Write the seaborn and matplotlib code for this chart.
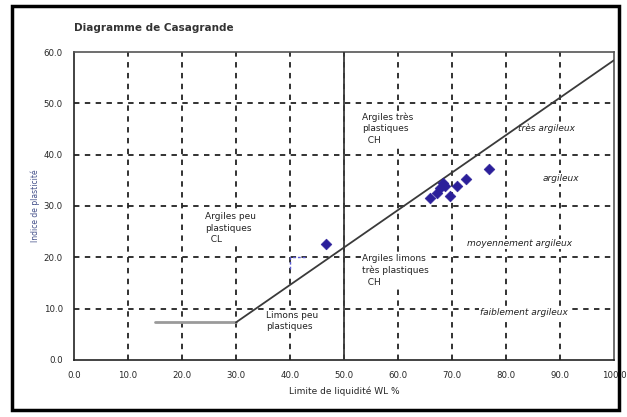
import numpy as np
import pandas as pd
import matplotlib
matplotlib.use("Agg")
import matplotlib.pyplot as plt
import seaborn as sns
from matplotlib.patches import Rectangle

# --- data ---
wl = [46.6, 65.9, 67.2, 67.8, 68.3, 68.7, 69.6, 70.9, 72.6, 76.9]
ip = [22.6, 31.6, 32.6, 33.5, 34.5, 33.9, 32.0, 33.9, 35.3, 37.2]

a_line_wl = [30.0, 100.0]
a_line_ip = [7.3, 58.4]
low_wl = [15.0, 30.0]
low_ip = [7.3, 7.3]
split_wl = [50.0, 50.0]
split_ip = [0.0, 60.0]
mark_wl = [40.0, 40.0, 43.0]
mark_ip = [17.8, 20.0, 20.0]

x_ticks = [0, 10, 20, 30, 40, 50, 60, 70, 80, 90, 100]
y_ticks = [0, 10, 20, 30, 40, 50, 60]

zones = ["Argiles très\nplastiques\n  CH", "Argiles peu\nplastiques\n  CL",
         "Argiles limons\ntrès plastiques\n  CH", "Limons peu\nplastiques"]
zone_x = [53.3, 24.3, 53.3, 35.6]
zone_y = [48.3, 28.8, 20.6, 9.6]

classes = ["très argileux", "argileux", "moyennement argileux", "faiblement argileux"]
class_x = [82.2, 86.8, 72.8, 75.2]
class_y = [45.2, 35.4, 22.6, 9.2]

sns.set_style("white")
plt.rcParams['font.family'] = ['DejaVu Sans']

fig = plt.figure(figsize=(6.27, 4.17), dpi=100)
ax = fig.add_axes([0.118, 0.137, 0.861, 0.738])

# grid
for v in x_ticks[1:-1]:
    ax.axvline(v, color='#222222', ls=(0, (3, 3)), lw=1.3, zorder=1)
for v in y_ticks[1:-1]:
    ax.axhline(v, color='#222222', ls=(0, (3, 3)), lw=1.3, zorder=1)

ax.plot(mark_wl, mark_ip, color='#5a5ad0', ls=(0, (2, 1.5)), lw=1, zorder=2)
ax.plot(low_wl, low_ip, color='#9a9a9a', lw=2, zorder=2)
ax.plot(a_line_wl, a_line_ip, color='#3a3a3a', lw=1.3, zorder=6)
ax.plot(split_wl, split_ip, color='#3a3a3a', lw=1.3, zorder=6)

df = pd.DataFrame({'WL': wl, 'IP': ip})
sns.scatterplot(data=df, x='WL', y='IP', marker='D', s=30, color='#2b1f9a',
                edgecolor='#2b1f9a', ax=ax, zorder=7)

for t, x, y in zip(zones, zone_x, zone_y):
    ax.text(x, y, t, fontsize=6.5, va='top', ha='left', color='#222222',
            linespacing=1.35, zorder=5,
            bbox=dict(facecolor='white', edgecolor='none', pad=0.5))
for t, x, y in zip(classes, class_x, class_y):
    ax.text(x, y, t, fontsize=6.5, style='italic', va='center', ha='left',
            color='#222222', zorder=5,
            bbox=dict(facecolor='white', edgecolor='none', pad=0.5))

ax.set_xlim(0, 100)
ax.set_ylim(0, 60)
ax.set_xticks(x_ticks)
ax.set_yticks(y_ticks)
ax.set_xticklabels([f"{v:.1f}" for v in x_ticks], fontsize=6.2)
ax.set_yticklabels([f"{v:.1f}" for v in y_ticks], fontsize=6.2)
ax.tick_params(direction='inout', length=4, width=1, color='#333333', pad=6)
ax.set_xlabel("Limite de liquidité WL %", fontsize=6.5, labelpad=5)
ax.set_ylabel("Indice de plasticité", fontsize=5.5, color='#44508a', labelpad=3)
for s in ax.spines.values():
    s.set_color('#555555')
    s.set_linewidth(1.2)
ax.spines['left'].set_color('#222222')
ax.spines['bottom'].set_color('#222222')

fig.text(0.118, 0.922, "Diagramme de Casagrande", fontsize=7.5, fontweight='bold',
         color='#333333', ha='left', va='bottom')

fig.patches.append(Rectangle((0.019, 0.016), 0.969, 0.97, transform=fig.transFigure,
                             fill=False, edgecolor='black', lw=2.5))

fig.savefig("out.png", dpi=100)
